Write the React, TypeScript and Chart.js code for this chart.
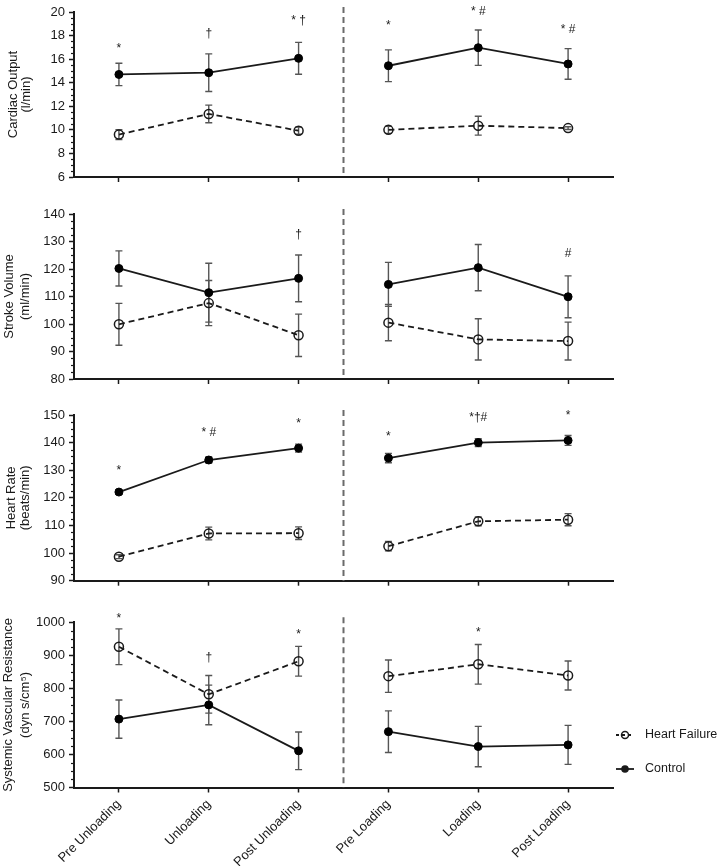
import React, { useEffect, useRef } from 'react';
import { Chart, registerables } from 'chart.js';
Chart.register(...registerables);

Chart.defaults.font.family = "'Liberation Sans', Arial, Helvetica, sans-serif";
Chart.defaults.color = '#222';

// ---------- DATA ----------
const categories = ['Pre Unloading', 'Unloading', 'Post Unloading', 'Pre Loading', 'Loading', 'Post Loading'];

// Cardiac Output (l/min)
const coHF = [9.6, 11.35, 9.93, 10.0, 10.35, 10.15];
const coHFErr = [0.42, 0.75, 0.3, 0.3, 0.8, 0.12];
const coCtl = [14.7, 14.85, 16.07, 15.44, 16.97, 15.59];
const coCtlErr = [0.95, 1.6, 1.35, 1.35, 1.5, 1.3];
const coMarks = ['*', '†', '* †', '*', '* #', '* #'];
const coMarkY = [16.63, 17.84, 19.02, 18.56, 19.75, 18.19];

// Stroke Volume (ml/min)
const svHF = [99.9, 107.6, 95.9, 100.5, 94.4, 93.8];
const svHFErr = [7.6, 8.2, 7.7, 6.6, 7.5, 6.9];
const svCtl = [120.2, 111.4, 116.6, 114.4, 120.5, 109.9];
const svCtlErr = [6.4, 10.7, 8.5, 8.0, 8.4, 7.6];
const svMarks = ['', '', '†', '', '', '#'];
const svMarkY = [null, null, 131.3, null, null, 124.4];

// Heart Rate (beats/min)
const hrHF = [98.7, 107.1, 107.2, 102.5, 111.5, 112.1];
const hrHFErr = [0.7, 2.3, 2.3, 1.7, 1.6, 2.2];
const hrCtl = [122.1, 133.7, 138.0, 134.4, 140.0, 140.8];
const hrCtlErr = [0.8, 1.1, 1.45, 1.7, 1.45, 1.8];
const hrMarks = ['*', '* #', '*', '*', '*†#', '*'];
const hrMarkY = [128.7, 142.5, 145.8, 141.1, 147.8, 148.7];

// Systemic Vascular Resistance (dyn s/cm5)
const svrHF = [926, 782, 882, 837, 873, 839];
const svrHFErr = [54, 57, 45, 49, 60, 44];
const svrCtl = [707, 750, 611, 669, 624, 629];
const svrCtlErr = [58, 60, 57, 63, 61, 59];
const svrMarks = ['*', '†', '*', '', '*', ''];
const svrMarkY = [1000, 881.5, 951, null, 958.6, null];

const seriesNames = ['Heart Failure', 'Control'];

// ---------- PLUGIN ----------
const INK = '#1a1a1a';
const ERR = '#555';

const decoPlugin = {
  id: 'deco',
  beforeDatasetsDraw(chart: any, _a: any, opts: any) {
    const { ctx, chartArea } = chart;
    const xs = chart.scales.x;
    const ys = chart.scales.y;
    // separator
    const xSep = (xs.getPixelForValue(2) + xs.getPixelForValue(3)) / 2;
    ctx.save();
    ctx.strokeStyle = '#6a6a6a';
    ctx.lineWidth = 2;
    ctx.setLineDash([6, 4]);
    ctx.beginPath();
    ctx.moveTo(xSep, chartArea.top - 5);
    ctx.lineTo(xSep, chartArea.bottom);
    ctx.stroke();
    ctx.restore();

    // minor ticks
    ctx.save();
    ctx.strokeStyle = INK;
    ctx.lineWidth = 1.2;
    const { min, max } = ys;
    const n = Math.round((max - min) / opts.minor);
    for (let k = 0; k <= n; k++) {
      const v = min + k * opts.minor;
      const r = (v - min) / opts.major;
      if (Math.abs(r - Math.round(r)) < 1e-6) continue;
      const y = Math.round(ys.getPixelForValue(v)) + 0.5;
      ctx.beginPath();
      ctx.moveTo(chartArea.left - 3, y);
      ctx.lineTo(chartArea.left, y);
      ctx.stroke();
    }
    ctx.restore();

    // error bars
    ctx.save();
    ctx.strokeStyle = ERR;
    ctx.lineWidth = 1.4;
    chart.data.datasets.forEach((ds: any) => {
      ds.data.forEach((v: number, i: number) => {
        const e = ds.errors[i];
        const x = xs.getPixelForValue(i);
        const yt = ys.getPixelForValue(v + e);
        const yb = ys.getPixelForValue(v - e);
        ctx.beginPath();
        ctx.moveTo(x, yt);
        ctx.lineTo(x, yb);
        ctx.moveTo(x - 3.5, yt);
        ctx.lineTo(x + 3.5, yt);
        ctx.moveTo(x - 3.5, yb);
        ctx.lineTo(x + 3.5, yb);
        ctx.stroke();
      });
    });
    ctx.restore();
  },
  afterDatasetsDraw(chart: any, _a: any, opts: any) {
    const { ctx, chartArea } = chart;
    const xs = chart.scales.x;
    const ys = chart.scales.y;
    ctx.save();
    ctx.fillStyle = INK;
    ctx.font = "12px 'Liberation Sans', Arial, sans-serif";
    ctx.textAlign = 'center';
    ctx.textBaseline = 'alphabetic';
    opts.marks.forEach((m: string, i: number) => {
      if (!m || opts.markY[i] == null) return;
      ctx.fillText(m, xs.getPixelForValue(i), ys.getPixelForValue(opts.markY[i]));
    });
    ctx.restore();

    // axis title
    ctx.save();
    ctx.fillStyle = INK;
    ctx.font = "13px 'Liberation Sans', Arial, sans-serif";
    ctx.textAlign = 'center';
    ctx.textBaseline = 'middle';
    const cy = (chartArea.top + chartArea.bottom) / 2;
    opts.title.forEach((t: string, k: number) => {
      ctx.save();
      ctx.translate(opts.titleX[k], cy);
      ctx.rotate(-Math.PI / 2);
      ctx.fillText(t, 0, 0);
      ctx.restore();
    });
    ctx.restore();

    if (opts.legend) {
      const x0 = chartArea.right + 3;
      const x1 = chartArea.right + 21;
      const xc = (x0 + x1) / 2;
      const xt = chartArea.right + 32;
      const ys2 = [chartArea.bottom - 52.5, chartArea.bottom - 18.5];
      ctx.save();
      ctx.strokeStyle = INK;
      ctx.fillStyle = INK;
      ctx.lineWidth = 1.8;
      // HF
      ctx.setLineDash([3, 3]);
      ctx.beginPath();
      ctx.moveTo(x0, ys2[0]);
      ctx.lineTo(x1, ys2[0]);
      ctx.stroke();
      ctx.setLineDash([]);
      ctx.lineWidth = 1.5;
      ctx.beginPath();
      ctx.arc(xc, ys2[0], 3.5, 0, Math.PI * 2);
      ctx.stroke();
      // Control
      ctx.lineWidth = 1.8;
      ctx.beginPath();
      ctx.moveTo(x0, ys2[1]);
      ctx.lineTo(x1, ys2[1]);
      ctx.stroke();
      ctx.beginPath();
      ctx.arc(xc, ys2[1], 3.8, 0, Math.PI * 2);
      ctx.fill();
      ctx.font = "12.5px 'Liberation Sans', Arial, sans-serif";
      ctx.textAlign = 'left';
      ctx.textBaseline = 'middle';
      ctx.fillText(seriesNames[0], xt, ys2[0]);
      ctx.fillText(seriesNames[1], xt, ys2[1]);
      ctx.restore();
    }
  },
};

// ---------- PANELS ----------
type Spec = {
  top: number; height: number; padTop: number; xAxisH: number;
  min: number; max: number; major: number; minor: number;
  hf: number[]; hfErr: number[]; ctl: number[]; ctlErr: number[];
  marks: string[]; markY: (number | null)[];
  title: string[]; titleX: number[]; showX: boolean; legend: boolean;
};

const panels: Spec[] = [
  { top: 0, height: 200, padTop: 12, xAxisH: 23, min: 6, max: 20, major: 2, minor: 0.5,
    hf: coHF, hfErr: coHFErr, ctl: coCtl, ctlErr: coCtlErr, marks: coMarks, markY: coMarkY,
    title: ['Cardiac Output', '(l/min)'], titleX: [13, 26], showX: false, legend: false },
  { top: 200, height: 200, padTop: 14, xAxisH: 21, min: 80, max: 140, major: 10, minor: 2.5,
    hf: svHF, hfErr: svHFErr, ctl: svCtl, ctlErr: svCtlErr, marks: svMarks, markY: svMarkY,
    title: ['Stroke Volume', '(ml/min)'], titleX: [9, 25], showX: false, legend: false },
  { top: 400, height: 200, padTop: 15, xAxisH: 19.3, min: 90, max: 150, major: 10, minor: 2.5,
    hf: hrHF, hfErr: hrHFErr, ctl: hrCtl, ctlErr: hrCtlErr, marks: hrMarks, markY: hrMarkY,
    title: ['Heart Rate', '(beats/min)'], titleX: [11, 25], showX: false, legend: false },
  { top: 600, height: 266, padTop: 22.3, xAxisH: 78.5, min: 500, max: 1000, major: 100, minor: 25,
    hf: svrHF, hfErr: svrHFErr, ctl: svrCtl, ctlErr: svrCtlErr, marks: svrMarks, markY: svrMarkY,
    title: ['Systemic Vascular Resistance', '(dyn s/cm\u2075)'], titleX: [8, 25], showX: true, legend: true },
];

// no line between the unloading block (0-2) and the loading block (3-5)
const breakAfter = 2;

function makeConfig(s: Spec): any {
  const segment = {
    borderColor: (c: any) => (c.p0DataIndex === breakAfter ? 'rgba(0,0,0,0)' : INK),
  };
  return {
    type: 'line',
    data: {
      labels: categories,
      datasets: [
        {
          label: seriesNames[0], data: s.hf, errors: s.hfErr,
          borderColor: INK, borderWidth: 1.8, borderDash: [6, 4], tension: 0, segment,
          pointRadius: 4.5, pointBorderWidth: 1.5, pointBorderColor: INK,
          pointBackgroundColor: 'rgba(0,0,0,0)', clip: false,
        },
        {
          label: seriesNames[1], data: s.ctl, errors: s.ctlErr,
          borderColor: INK, borderWidth: 1.8, tension: 0, segment,
          pointRadius: 4, pointBorderWidth: 1, pointBorderColor: '#000',
          pointBackgroundColor: '#000', clip: false,
        },
      ],
    },
    options: {
      responsive: false,
      animation: false,
      events: [],
      layout: { padding: { top: s.padTop, right: 107, bottom: 0, left: 0 } },
      plugins: {
        legend: { display: false },
        tooltip: { enabled: false },
        deco: { marks: s.marks, markY: s.markY, title: s.title, titleX: s.titleX,
          major: s.major, minor: s.minor, legend: s.legend },
      },
      scales: {
        x: {
          type: 'category',
          offset: true,
          grid: { display: true, drawOnChartArea: false, offset: false, tickLength: 5, tickColor: INK, tickWidth: 1.5 },
          border: { display: true, color: INK, width: 2 },
          ticks: { display: s.showX, autoSkip: false, minRotation: 45, maxRotation: 45,
            font: { size: 13 }, color: INK, padding: 4 },
          afterFit: (sc: any) => { sc.height = s.xAxisH; },
        },
        y: {
          type: 'linear',
          min: s.min, max: s.max,
          grid: { display: true, drawOnChartArea: false, tickLength: 5, tickColor: INK, tickWidth: 1.5 },
          border: { display: true, color: INK, width: 2 },
          ticks: { stepSize: s.major, font: { size: 13 }, color: INK, padding: 4,
            callback: (v: any) => String(v) },
          afterFit: (sc: any) => { sc.width = 74; },
        },
      },
    },
    plugins: [decoPlugin],
  };
}

function Panel({ spec }: { spec: Spec }) {
  const ref = useRef<HTMLCanvasElement | null>(null);
  useEffect(() => {
    if (!ref.current) return;
    const chart = new Chart(ref.current, makeConfig(spec));
    return () => chart.destroy();
  }, [spec]);
  return (
    <canvas
      ref={ref}
      width={720}
      height={spec.height}
      style={{ position: 'absolute', left: 0, top: spec.top, width: 720, height: spec.height }}
    />
  );
}

export default function App() {
  return (
    <div style={{ position: 'absolute', left: 0, top: 0, width: 720, height: 866, background: '#fff', overflow: 'hidden' }}>
      {panels.map((p, i) => <Panel key={i} spec={p} />)}
    </div>
  );
}
